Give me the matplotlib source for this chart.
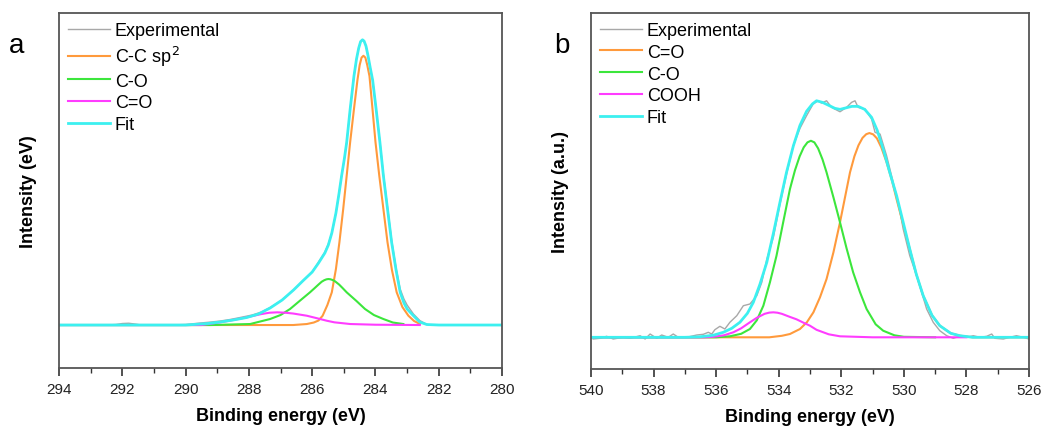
import matplotlib.pyplot as plt
from matplotlib.ticker import MultipleLocator

plt.rcParams['font.family'] = ['Liberation Sans', 'DejaVu Sans']

# ---- panel a : C 1s ----
a_fit_e = [294, 290.0, 289.76, 289.3, 288.91, 288.5, 288.07, 287.7, 287.33, 286.95, 286.59, 286.3,
           286.0, 285.8, 285.6, 285.49, 285.38, 285.25, 285.15, 285.07, 284.98, 284.91, 284.80,
           284.68, 284.6, 284.53, 284.47, 284.41, 284.36, 284.3, 284.24, 284.17, 284.09, 283.98,
           283.86, 283.75, 283.62, 283.49, 283.35, 283.22, 283.1, 283.0, 282.8, 282.6, 282.38,
           282.0, 280]
a_fit_i = [0, 0, 0.5, 1.5, 3, 5, 7.5, 11, 17, 25, 35, 44, 53, 62, 72, 80, 92, 112, 132, 149.3,
           167, 182.7, 216, 249, 266, 277, 283.5, 285.3, 284, 279, 270, 258, 245, 216, 182.7,
           149.3, 116, 82.7, 55, 32.7, 22, 16, 9.3, 3, 0.5, 0, 0]

a_exp_e = [292.5, 292.2, 292.0, 291.8, 291.6, 291.4, 290.5, 290.0, 289.54, 289.2, 288.91, 288.6,
           288.28, 287.9, 287.6, 287.33, 286.95, 286.59, 286.3, 286.0, 285.8, 285.6, 285.49,
           285.38, 285.25, 285.15, 285.07, 284.98, 284.91, 284.80, 284.68, 284.6, 284.53, 284.47,
           284.41, 284.36, 284.3, 284.24, 284.17, 284.09, 283.98, 283.86, 283.75, 283.62, 283.49,
           283.35, 283.22, 283.1, 283.0, 282.8, 282.6, 282.4, 282.3]
a_exp_i = [0, 0.5, 1.5, 1.8, 1, 0, 0, 0.5, 2, 3, 4, 5.5, 7.5, 10, 13, 17.5, 25, 35, 44, 53, 63,
           73, 81, 92, 112, 132, 149.3, 167, 182.7, 216, 249, 266, 277, 283.5, 285.3, 284, 279,
           270, 258, 245, 216, 183.5, 151, 118, 85, 57, 36, 26, 20, 11, 4.5, 1, 0]

a_cc_e = [294, 286.6, 286.17, 285.95, 285.8, 285.67, 285.52, 285.38, 285.25, 285.14, 285.02,
          284.91, 284.8, 284.68, 284.57, 284.5, 284.44, 284.38, 284.32, 284.26, 284.19, 284.12,
          284.0, 283.88, 283.75, 283.62, 283.48, 283.33, 283.15, 282.96, 282.78, 282.59]
a_cc_i = [0, 0, 1, 2.5, 4.5, 9.3, 20, 32.7, 56, 82.7, 116, 149.3, 183, 216, 245, 260, 267.5,
          269.3, 267.5, 260, 249, 225, 183, 149.3, 116, 82.7, 55, 32.7, 18, 9.3, 4, 1]

a_co_e = [294, 289.2, 288.6, 287.96, 287.33, 287.0, 286.7, 286.4, 286.07, 285.93, 285.8, 285.7,
          285.62, 285.55, 285.49, 285.43, 285.36, 285.28, 285.15, 285.04, 284.91, 284.6, 284.33,
          284.05, 283.75, 283.45, 283.12]
a_co_i = [0, 0, 0.5, 1, 6, 10, 16, 24, 32.7, 36.7, 40.5, 43.3, 44.8, 45.7, 46, 45.8, 45.1, 43.8,
          40.5, 37, 32.7, 24, 16, 10, 6, 2.5, 1]

a_cdo_e = [294, 289.5, 288.9, 288.5, 288.07, 287.6, 287.35, 287.1, 286.85, 286.6, 286.17, 285.85,
           285.54, 285.3, 284.8, 284.0, 282.6]
a_cdo_i = [0, 0, 2.7, 5, 7.7, 11, 12.3, 12.7, 12.3, 11.5, 9.3, 6.8, 4.3, 2.7, 1, 0.3, 0]

# ---- panel b : O 1s ----
b_fit_e = [540, 537.0, 536.52, 536.1, 535.77, 535.5, 535.24, 535.0, 534.81, 534.6, 534.38, 534.17,
           533.96, 533.75, 533.53, 533.32, 533.11, 532.92, 532.79, 532.6, 532.4, 532.2, 532.04,
           531.85, 531.66, 531.46, 531.25, 531.03, 530.85, 530.66, 530.45, 530.23, 530.02, 529.81,
           529.6, 529.38, 529.1, 528.85, 528.5, 528.21, 527.8, 526]
b_fit_i = [0, 0, 0.5, 2, 5, 9, 15, 24, 35, 53, 75, 104, 135, 165, 191.6, 212, 226, 233.5, 236.6,
           235, 232, 229, 228, 229.5, 231, 231, 228, 220, 207, 188.3, 165, 141.6, 115, 88.3, 63,
           41.6, 22, 11.6, 4, 1.6, 0, 0]

b_exp_e = [539.93, 539.71, 539.5, 539.29, 538.97, 538.75, 538.43, 538.27, 538.11, 537.9, 537.74,
           537.53, 537.37, 537.21, 536.94, 536.62, 536.41, 536.25, 536.14, 536.04, 535.88, 535.72,
           535.56, 535.34, 535.13, 534.92, 534.7, 534.54, 534.38, 534.17, 533.96, 533.75, 533.53,
           533.32, 533.11, 532.9, 532.74, 532.63, 532.47, 532.31, 532.04, 531.83, 531.67, 531.56,
           531.46, 531.24, 531.03, 530.92, 530.76, 530.55, 530.34, 530.18, 530.02, 529.81, 529.59,
           529.27, 529.06, 528.85, 528.63, 528.42, 528.21, 527.99, 527.78, 527.57, 527.35, 527.19,
           527.09, 526.82, 526.61, 526.4, 526.18, 526.0]
b_exp_i = [-1.7, -1.0, 1.0, -1.7, 0, -1.0, 1.6, -1.7, 3.3, -1.0, 2.3, 0, 3.3, 0, 0, 2.3, 3.0, 5,
           3.3, 7.6, 11, 8.3, 15, 21.6, 31.6, 33.3, 41.6, 55, 78, 100, 133, 163, 192, 209, 221.6,
           233.3, 236.6, 234.3, 236.6, 230, 225.6, 230, 235, 236.6, 230, 228.3, 218.3, 205, 203.3,
           181.6, 155, 135, 108.3, 81.6, 61.6, 28.3, 15, 6.6, 1.6, -1.0, 1, 0, 1.6, 0, 1, 3.3, -1,
           -1.7, 0, 1.6, 0, -1.7]

b_cdo_e = [540, 534.3, 533.9, 533.64, 533.32, 533.1, 532.89, 532.68, 532.47, 532.25, 532.04,
           531.88, 531.72, 531.58, 531.45, 531.32, 531.2, 531.1, 530.98, 530.86, 530.72, 530.55,
           530.38, 530.23, 530.02, 529.81, 529.6, 529.38, 529.1, 528.85, 528.5, 528.21, 527.8, 526]
b_cdo_i = [0, 0, 1.5, 3.3, 8.3, 15, 25, 40, 58.3, 85, 115, 140, 165, 181, 192, 199.5, 203.2,
           204.3, 203, 199, 190, 175, 157, 138, 113, 88.3, 63, 41.6, 22, 11.6, 4, 1.6, 0, 0]

b_co_e = [540, 536.0, 535.56, 535.2, 534.92, 534.7, 534.49, 534.28, 534.07, 533.85, 533.64,
          533.48, 533.33, 533.2, 533.08, 532.97, 532.86, 532.74, 532.6, 532.47, 532.25, 532.04,
          531.83, 531.62, 531.4, 531.19, 530.9, 530.66, 530.3, 530.0, 529.0]
b_co_i = [0, 0, 1, 3.5, 8.3, 17, 31.6, 55, 81.6, 116, 148.3, 167, 181, 190, 195, 196.6, 195,
          189, 178, 165, 140, 115, 89, 65, 45, 28.3, 13, 6.6, 2, 0.5, 0]

b_cooh_e = [540, 536.4, 536.09, 535.75, 535.45, 535.2, 534.92, 534.7, 534.45, 534.3, 534.17,
            534.04, 533.9, 533.65, 533.43, 533.2, 533.0, 532.79, 532.4, 532.04, 531.0, 528.0]
b_cooh_i = [0, 0, 0.5, 2, 5, 9, 15, 19.5, 23.5, 24.7, 25, 24.6, 23.5, 20.5, 18, 14.5, 11.6, 7.5,
            3, 1, 0, 0]

GRAY = '#a8a8a8'
ORANGE = '#ff9a3c'
GREEN = '#3ce63c'
MAGENTA = '#ff3cff'
CYAN = '#3cf0f0'

fig = plt.figure(figsize=(10.46, 4.27), dpi=100)
ax_a = fig.add_axes([0.0564, 0.1358, 0.4236, 0.8312])
ax_b = fig.add_axes([0.565, 0.1335, 0.4187, 0.8335])

ax_a.plot(a_exp_e, a_exp_i, color=GRAY, lw=1.0, label='Experimental')
ax_a.plot(a_cc_e, a_cc_i, color=ORANGE, lw=1.5, label='C-C sp$^2$')
ax_a.plot(a_co_e, a_co_i, color=GREEN, lw=1.5, label='C-O')
ax_a.plot(a_cdo_e, a_cdo_i, color=MAGENTA, lw=1.5, label='C=O')
ax_a.plot(a_fit_e, a_fit_i, color=CYAN, lw=2.0, label='Fit')
ax_a.set_xlim(294, 280)
ax_a.set_ylim(-43, 312)
ax_a.set_ylabel('Intensity (eV)', fontsize=13, fontweight='bold', labelpad=16)

ax_b.plot(b_exp_e, b_exp_i, color=GRAY, lw=1.0, label='Experimental')
ax_b.plot(b_cdo_e, b_cdo_i, color=ORANGE, lw=1.5, label='C=O')
ax_b.plot(b_co_e, b_co_i, color=GREEN, lw=1.5, label='C-O')
ax_b.plot(b_cooh_e, b_cooh_i, color=MAGENTA, lw=1.5, label='COOH')
ax_b.plot(b_fit_e, b_fit_i, color=CYAN, lw=2.0, label='Fit')
ax_b.set_xlim(540, 526)
ax_b.set_ylim(-31.7, 324.3)
ax_b.set_ylabel('Intensity (a.u.)', fontsize=13, fontweight='bold', labelpad=16)

for ax in (ax_a, ax_b):
    ax.set_xlabel('Binding energy (eV)', fontsize=13, fontweight='bold', labelpad=8)
    ax.xaxis.set_major_locator(MultipleLocator(2))
    ax.xaxis.set_minor_locator(MultipleLocator(1))
    ax.tick_params(axis='x', which='major', direction='out', length=6, width=1.2,
                   labelsize=11, colors='#333333', pad=4)
    ax.tick_params(axis='x', which='minor', direction='out', length=3.5, width=1.0, colors='#333333')
    ax.tick_params(axis='x', labelcolor='#222222')
    ax.set_yticks([])
    for s in ax.spines.values():
        s.set_color('#555555')
        s.set_linewidth(1.3)
    ax.legend(loc='upper left', frameon=False, fontsize=13, handlelength=2.3,
              handletextpad=0.3, labelspacing=0.26, borderpad=0.3, borderaxespad=0.2)

fig.text(0.0163, 0.876, 'a', fontsize=20, ha='center', va='baseline')
fig.text(0.537, 0.876, 'b', fontsize=20, ha='center', va='baseline')

fig.savefig('out.png', dpi=100)
